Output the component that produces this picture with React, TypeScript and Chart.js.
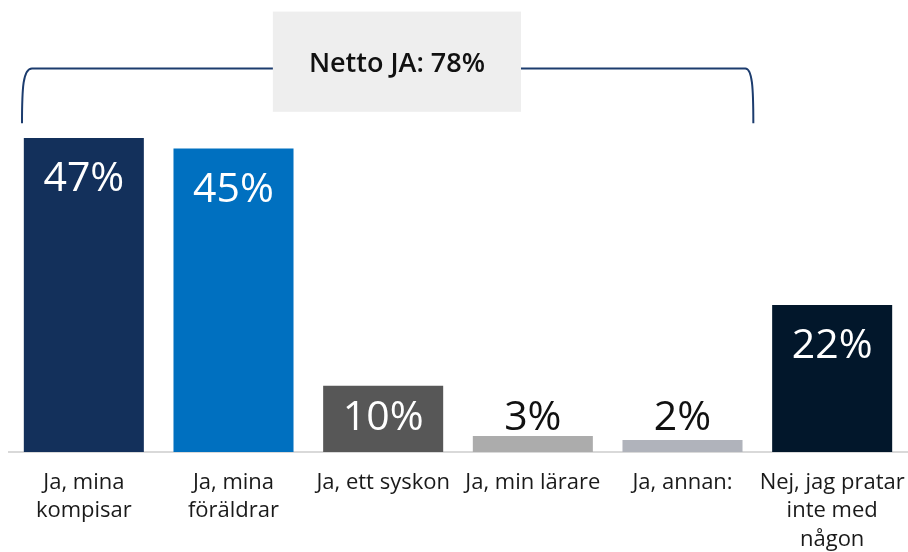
import React, { useEffect, useRef } from "react";
import { Chart, registerables } from "chart.js";

Chart.register(...registerables);

const categories: string[][] = [
  ["Ja, mina", "kompisar"],
  ["Ja, mina", "föräldrar"],
  ["Ja, ett syskon"],
  ["Ja, min lärare"],
  ["Ja, annan:"],
  ["Nej, jag pratar", "inte med", "någon"],
];
const values: number[] = [47, 45.4, 9.9, 2.4, 1.8, 22];
const valueLabels: string[] = ["47%", "45%", "10%", "3%", "2%", "22%"];
const barColors: string[] = ["#13305b", "#0070c0", "#575757", "#acacac", "#b0b3bb", "#02172b"];
const netLabel = "Netto JA: 78%";
const netFirstIndex = 0;
const netLastIndex = 4;

const FONT = "'Open Sans', 'Noto Sans', sans-serif";

const labelPlugin = {
  id: "valueLabels",
  afterDatasetsDraw(chart: any) {
    const ctx = chart.ctx;
    const meta = chart.getDatasetMeta(0);
    ctx.save();
    ctx.font = `400 41px ${FONT}`;
    ctx.textAlign = "center";
    ctx.textBaseline = "alphabetic";
    meta.data.forEach((bar: any, i: number) => {
      const h = bar.base - bar.y;
      let y: number;
      let color: string;
      if (h > 100) {
        y = bar.y + 53;
        color = "#ffffff";
      } else {
        y = bar.base - 22;
        color = h > 40 ? "#ffffff" : "#111111";
      }
      ctx.fillStyle = color;
      ctx.fillText(valueLabels[i], bar.x, y);
    });
    ctx.restore();
  },
};

const bracketPlugin = {
  id: "netBracket",
  afterDraw(chart: any) {
    const ctx = chart.ctx;
    const xs = chart.scales.x;
    const ys = chart.scales.y;
    const w = (xs.right - xs.left) / categories.length;
    const left = xs.left + netFirstIndex * w + 13;
    const right = xs.left + (netLastIndex + 1) * w - 4;
    const yLine = ys.getPixelForValue(57.4);
    const yEnd = ys.getPixelForValue(49.2);
    ctx.save();
    ctx.strokeStyle = "#1c3c6e";
    ctx.lineWidth = 2;
    ctx.beginPath();
    ctx.moveTo(left, yEnd);
    ctx.bezierCurveTo(left, yLine + 20, left + 1, yLine, left + 10, yLine);
    ctx.lineTo(right - 8, yLine);
    ctx.bezierCurveTo(right - 1, yLine, right, yLine + 20, right, yEnd);
    ctx.stroke();

    const bx0 = xs.left + 1.763 * w;
    const bx1 = xs.left + 3.421 * w;
    const by0 = ys.getPixelForValue(65.9);
    const by1 = ys.getPixelForValue(50.9);
    ctx.fillStyle = "#eeeeee";
    ctx.fillRect(bx0, by0, bx1 - bx0, by1 - by0);
    ctx.fillStyle = "#111111";
    ctx.font = `600 27px ${FONT}`;
    ctx.textAlign = "center";
    ctx.textBaseline = "alphabetic";
    ctx.fillText(netLabel, (bx0 + bx1) / 2, ys.getPixelForValue(56.8));
    ctx.restore();
  },
};

export default function App() {
  const ref = useRef<HTMLCanvasElement | null>(null);
  useEffect(() => {
    if (!ref.current) return;
    const chart = new Chart(ref.current, {
      type: "bar",
      data: {
        labels: categories,
        datasets: [
          {
            data: values,
            backgroundColor: barColors,
            borderWidth: 0,
            barPercentage: 0.802,
            categoryPercentage: 1,
          },
        ],
      },
      options: {
        responsive: false,
        animation: false,
        layout: { padding: { top: 51, left: 9, right: 1, bottom: 0 } },
        plugins: { legend: { display: false }, tooltip: { enabled: false } },
        scales: {
          x: {
            grid: { display: false, drawTicks: false },
            border: { display: true, color: "#d9d9d9", width: 2 },
            ticks: {
              color: "#1a1a1a",
              font: { family: FONT, size: 22, lineHeight: 1.3 },
              padding: 16,
              maxRotation: 0,
              autoSkip: false,
            },
            afterFit: (scale: any) => {
              scale.height = 100;
              scale.paddingLeft = 0;
              scale.paddingRight = 0;
            },
          },
          y: { display: false, min: 0, max: 60 },
        },
      },
      plugins: [labelPlugin, bracketPlugin],
    });
    return () => chart.destroy();
  }, []);
  return (
    <div style={{ position: "fixed", left: 0, top: 0, width: 908, height: 552, background: "#fff" }}>
      <canvas ref={ref} width={908} height={552} style={{ display: "block" }} />
    </div>
  );
}
